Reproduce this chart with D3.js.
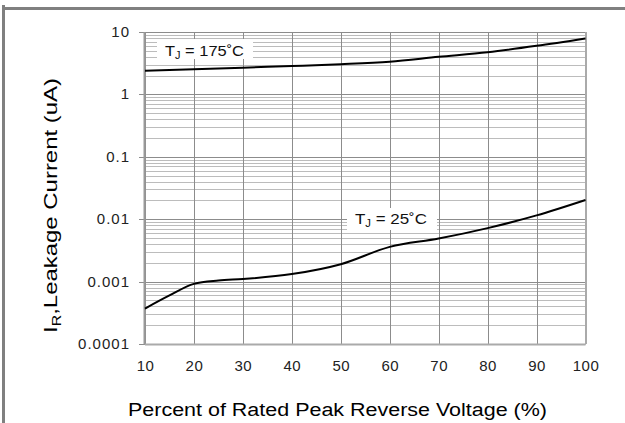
<!DOCTYPE html>
<html><head><meta charset="utf-8">
<script src="https://cdn.jsdelivr.net/npm/d3@7/dist/d3.min.js"></script>
<style>body{margin:0;background:#fff;}svg{display:block;}</style>
</head><body>
<svg id="c" width="625" height="423"></svg>
<script>
const xTicks = [10,20,30,40,50,60,70,80,90,100];
const yTicks = [0.0001,0.001,0.01,0.1,1,10];
const yTickLabels = ["0.0001","0.001","0.01","0.1","1","10"];
const pct175 = [10,20,30,40,50,60,70,80,90,100];
const hot175 = [2.4,2.52,2.68,2.85,3.05,3.35,4.0,4.73,6.0,7.9];
const pct25 = [10,15,20,25,30,40,50,60,70,80,90,100];
const cold25 = [0.00037,0.0006,0.00092,0.00104,0.0011,0.00132,0.0019,0.0036,0.0049,0.0072,0.0115,0.0203];

const FONT = "Liberation Sans, Arial, sans-serif";
const svg = d3.select("#c");
const L=145, R=585.5, T=32, B=344;
const x = d3.scaleLinear().domain([10,100]).range([L,R]);
const y = d3.scaleLog().domain([1e-4,10]).range([B,T]);

// frame
svg.append("rect").attr("x",2).attr("y",5).attr("width",3).attr("height",418).attr("fill","#808080");
svg.append("rect").attr("x",2).attr("y",7).attr("width",623).attr("height",3).attr("fill","#808080");

// minor horizontal grid
const minors=[];
for(let e=-4;e<1;e++){for(let m=2;m<=9;m++){minors.push(m*Math.pow(10,e));}}
svg.append("g").selectAll("line").data(minors).join("line")
  .attr("x1",L).attr("x2",R).attr("y1",d=>Math.round(y(d))+0.5).attr("y2",d=>Math.round(y(d))+0.5)
  .attr("stroke","#bcbcbc").attr("stroke-width",1);
// major horizontal
svg.append("g").selectAll("line").data(yTicks).join("line")
  .attr("x1",L-6).attr("x2",R).attr("y1",d=>Math.round(y(d))+0.5).attr("y2",d=>Math.round(y(d))+0.5)
  .attr("stroke","#8c8c8c").attr("stroke-width",1);
// vertical grid
svg.append("g").selectAll("line").data(xTicks).join("line")
  .attr("x1",d=>Math.round(x(d))+0.5).attr("x2",d=>Math.round(x(d))+0.5).attr("y1",T).attr("y2",B)
  .attr("stroke","#8c8c8c").attr("stroke-width",1);
// axes lines
svg.append("line").attr("x1",L-0.5).attr("x2",L-0.5).attr("y1",T).attr("y2",B+0.5).attr("stroke","#999").attr("stroke-width",2);
svg.append("line").attr("x1",L).attr("x2",R).attr("y1",B+0.5).attr("y2",B+0.5).attr("stroke","#aaa").attr("stroke-width",2);
svg.append("line").attr("x1",R+0.5).attr("x2",R+0.5).attr("y1",T).attr("y2",B).attr("stroke","#aaa").attr("stroke-width",2);

// tick labels
svg.append("g").selectAll("text").data(yTicks).join("text")
  .attr("x",130).attr("y",d=>y(d)+5).attr("text-anchor","end")
  .attr("font-family",FONT).attr("font-size",15).attr("letter-spacing",1).attr("fill","#222")
  .text((d,i)=>yTickLabels[i]);
svg.append("g").selectAll("text").data(xTicks).join("text")
  .attr("x",d=>x(d)+0.5).attr("y",371).attr("text-anchor","middle")
  .attr("font-family",FONT).attr("font-size",15).attr("letter-spacing",0.5).attr("fill","#222")
  .text(d=>d);

// curves
const line = d3.line().x(d=>x(d[0])).y(d=>y(d[1])).curve(d3.curveMonotoneX);
svg.append("path").datum(pct175.map((p,i)=>[p,hot175[i]])).attr("d",line)
  .attr("fill","none").attr("stroke","#000").attr("stroke-width",2);
svg.append("path").datum(pct25.map((p,i)=>[p,cold25[i]])).attr("d",line)
  .attr("fill","none").attr("stroke","#000").attr("stroke-width",2);

// labels
function tjLabel(bx,by,bw,bh,tx,ty,temp,len){
  svg.append("rect").attr("x",bx).attr("y",by).attr("width",bw).attr("height",bh).attr("fill","#fff");
  const t = svg.append("text").attr("x",tx).attr("y",ty)
    .attr("font-family",FONT).attr("font-size",15).attr("fill","#111")
    .attr("textLength",len).attr("lengthAdjust","spacingAndGlyphs");
  t.append("tspan").text("T");
  t.append("tspan").attr("font-size",10).attr("dy",3).text("J");
  t.append("tspan").attr("dy",-3).text(" = "+temp+"˚C");
}
tjLabel(157,39,96,20,165,56,"175",79);
tjLabel(347,208,90,22,355,224,"25",72);

// axis titles
svg.append("text").attr("x",337.5).attr("y",416).attr("text-anchor","middle")
  .attr("font-family",FONT).attr("font-size",18).attr("fill","#000")
  .attr("textLength",419).attr("lengthAdjust","spacingAndGlyphs")
  .text("Percent of Rated Peak Reverse Voltage (%)");
const yt = svg.append("text").attr("transform","translate(57,205.5) rotate(-90)").attr("text-anchor","middle")
  .attr("font-family",FONT).attr("font-size",18).attr("fill","#000")
  .attr("textLength",255).attr("lengthAdjust","spacingAndGlyphs");
yt.append("tspan").text("I");
yt.append("tspan").attr("font-size",12).attr("dy",4).text("R");
yt.append("tspan").attr("dy",-4).text(",Leakage Current (uA)");
</script>
</body></html>
